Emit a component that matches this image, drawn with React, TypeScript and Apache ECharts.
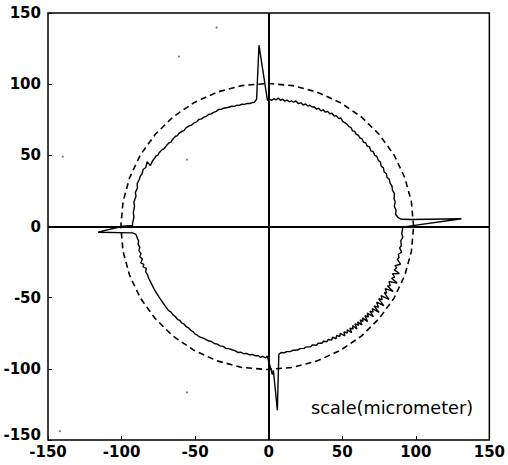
import React, { useEffect, useRef } from "react";
import * as echarts from "echarts";

// Axis range (micrometer)
const AXIS_MIN = -150;
const AXIS_MAX = 150;
const AXIS_STEP = 50;
const UNIT_LABEL = "scale(micrometer)";

// Reference (nominal) circle, dashed
const REFERENCE_CIRCLE: [number, number][] = [
  [98.5, 0], [97.0, 17.5], [92.5, 34.4], [85.2, 50.3], [75.2, 64.6], [63.0, 77.0],
  [48.8, 87.0], [33.0, 94.4], [16.3, 99.0], [-1, 100.5], [-18.3, 99.0], [-35.0, 94.4],
  [-50.8, 87.0], [-65.0, 77.0], [-77.2, 64.6], [-87.2, 50.3], [-94.5, 34.4], [-99.0, 17.5],
  [-100.5, 0], [-99.0, -17.5], [-94.5, -34.4], [-87.2, -50.3], [-77.2, -64.6], [-65.0, -77.0],
  [-50.8, -87.0], [-35.0, -94.4], [-18.3, -99.0], [-1, -100.5], [16.3, -99.0], [33.0, -94.4],
  [48.8, -87.0], [63.0, -77.0], [75.2, -64.6], [85.2, -50.3], [92.5, -34.4], [97.0, -17.5],
  [98.5, 0],
];

// Measured profile, clockwise from the top
const PROFILE_UPPER_RIGHT: [number, number][] = [
  [-0.8, 88.5], [0.5, 89.5], [2, 88.6], [3.5, 89.8], [5, 88.9], [6.5, 90.2], [8, 88.7],
  [9.5, 89.4], [11, 88.1], [12.5, 88.8], [14, 87.6], [15.5, 88.2], [17, 87.3], [18.5, 88.3],
  [20, 86.4], [22, 86.9], [23.5, 85.3], [25, 86.1], [26.5, 84.6], [28, 85.2], [29.5, 83.9],
  [31, 84.1], [32.5, 82.4], [34, 83.1], [35.5, 81.2], [37, 82], [38.5, 80.3], [40, 80.9],
  [41.5, 79.2], [43, 79.6], [44.5, 77.6], [46, 77.9], [47.5, 75.8], [49, 76.2], [50.5, 73.6],
  [52, 72.8], [53.5, 71.6], [54.5, 70.1], [56, 69.4], [57, 67.2], [58.5, 66.8], [59.5, 64.7],
  [61, 64.1], [62, 62.3], [63.5, 61.5], [64.5, 59.2], [66, 58.7], [67, 56.5], [68.5, 55.9],
  [69.5, 53.1], [71, 52.6], [72, 50.2], [73.5, 49.3], [74.5, 46.6], [76, 45.1], [76.5, 42.4],
  [78, 41.2], [78.5, 38.3], [80, 37.1], [80.5, 34.4], [82, 33.1], [82.5, 30.5], [83.8, 28.6],
  [84.2, 25.3], [85.5, 23.1], [85.2, 19.8], [86, 17.1], [85.4, 14.3], [86.6, 11.2], [86.2, 8.6],
  [88, 6.3], [90, 5.1],
];
const RIGHT_SPIKE: [number, number][] = [
  [97, 4.9], [131, 5.4], [98, 0.6], [91, -0.5],
];
const PROFILE_LOWER_RIGHT: [number, number][] = [
  [91, -2], [90.4, -5], [91.2, -7.5], [89.8, -10], [90.2, -13.5], [89, -15], [90.4, -18],
  [88.2, -19.5], [88.6, -22], [87.4, -23], [89.6, -26.5], [85.8, -27.5], [87, -29], [85.4, -30.5],
  [88.8, -33], [84.2, -33.2], [85.6, -35.5], [83.6, -36.4], [87.4, -39.8], [81.8, -38.6],
  [82.6, -41.5], [80.8, -41.8], [84.6, -45.6], [79.2, -43.6], [80.2, -46.8], [78.6, -46.4],
  [81.8, -51.2], [76.4, -48.6], [77.2, -51.4], [74.8, -50.8], [78.2, -55.6], [73.4, -53.2],
  [74.6, -56.8], [71.6, -55.8], [75, -60.4], [70.4, -57.6], [71, -60.2], [68.8, -59.4],
  [71.2, -63.4], [67, -60.8], [67.8, -63.6], [65.4, -62.6], [67.2, -66.8], [63.8, -64.2],
  [64.2, -66.6], [62.2, -65.6], [63.4, -69.2], [60.4, -67], [61.2, -69.4], [58.6, -68.4],
  [60, -72], [57, -69.6], [57.4, -72], [55.2, -71.4], [56.4, -74.6], [53.4, -72.6], [53.4, -74.8],
  [51.2, -74], [51.8, -76.8], [48.6, -75], [48.4, -77.2], [46.2, -76.6], [45.8, -78.8],
  [43.4, -77.8], [42.8, -79.8], [40.4, -79.4], [39.6, -81], [37.2, -80.6], [36.2, -82],
  [33.6, -82], [32.6, -83.4], [29.6, -83.2], [28.4, -84.6], [25.6, -84.6], [24, -85.6],
  [21.2, -85.8], [19.6, -86.8], [16.8, -86.9], [15, -87.8], [12.2, -87.9], [10.5, -88.8],
  [8.5, -88.5], [6.9, -89.8],
];
const BOTTOM_SPIKE: [number, number][] = [
  [5.9, -129], [3.2, -101], [2.5, -104], [-1, -91],
];
const PROFILE_LOWER_LEFT: [number, number][] = [
  [-2.2, -92.3], [-4, -91.2], [-5.5, -92], [-7, -90.6], [-9, -90.9], [-11, -89.9], [-13, -90.2],
  [-15, -89.1], [-17, -89.4], [-19, -88.3], [-21, -88.5], [-23, -87.2], [-25, -86.6], [-27, -85.8],
  [-29, -85.6], [-31, -84.2], [-33, -83.9], [-35, -82.6], [-37, -82.2], [-39, -80.8], [-41, -80.3],
  [-43, -79.2], [-45, -78.3], [-47, -77.6], [-48.5, -76.4], [-50, -75.6], [-51.5, -73.8],
  [-53, -72.9], [-54.5, -71.2], [-56, -70.4], [-57.5, -68.6], [-59, -67.8], [-60.5, -65.9],
  [-62, -65.2], [-63.5, -63.2], [-65, -62.1], [-66.5, -60], [-68, -59.1], [-69.5, -57],
  [-70.5, -55.6], [-72, -53.4], [-73, -51.9], [-74.5, -49.6], [-75.5, -47.8], [-77, -45.5],
  [-78, -43.6], [-79.2, -41.2], [-80.2, -39.1], [-81.5, -36.5], [-82.2, -34.2], [-83.6, -31.8],
  [-83.2, -29.5], [-85.4, -28.4], [-84.8, -26.6], [-86.9, -25.5], [-85.8, -23], [-87.6, -21.2],
  [-86.8, -19], [-88.2, -17], [-87.6, -14.5], [-88.8, -12.4], [-88.4, -10.2], [-89.1, -8.6],
  [-90.2, -5.6], [-92.5, -4.5],
];
const LEFT_SPIKE: [number, number][] = [
  [-116, -4], [-99.3, 0.2], [-92.5, 0.8],
];
const PROFILE_UPPER_LEFT: [number, number][] = [
  [-92.5, 2.6], [-91.6, 6.5], [-92, 10], [-91.2, 14.3], [-91.6, 17], [-90.2, 21.3], [-90.6, 24],
  [-89.2, 27], [-89.4, 30], [-88, 33], [-87.2, 35.5], [-86, 37.2], [-85.4, 40], [-83.5, 41.5],
  [-82.6, 45.5], [-80.4, 42.8], [-79, 46], [-78, 47.2], [-76.7, 49.4], [-75.2, 50.2], [-74.5, 51.8],
  [-72.3, 54.1], [-71.2, 54.6], [-70, 56.2], [-67.8, 58.8], [-66.4, 59.3], [-65.5, 61], [-63.3, 63.4],
  [-62, 63.8], [-61, 65.4], [-58.8, 67], [-57.6, 67.4], [-56.5, 69], [-54.3, 70.5], [-52.5, 71.2],
  [-51, 72.6], [-49, 73.5], [-47.5, 75.2], [-45.6, 75.6], [-44, 76.9], [-42.2, 77.6], [-40.8, 78.7],
  [-39, 79.1], [-37.5, 80.2], [-35.6, 80.9], [-34.1, 82.2], [-32, 82.4], [-30, 83.3], [-27.8, 83.6],
  [-25.1, 84.5], [-23.2, 84.4], [-21.5, 85.2], [-19.8, 85.1], [-18.3, 85.9], [-16.4, 85.8],
  [-14.5, 86.5], [-12.8, 86.4], [-11.1, 87.1], [-9.6, 87.4], [-8.2, 89.5],
];
const TOP_SPIKE: [number, number][] = [
  [-6.6, 127.4], [-0.8, 88.5],
];

// Scanning specks visible in the figure
const SPECKS: [number, number][] = [
  [-140, 49], [-35.4, 139.8], [-61, 119.4], [-55.6, 47], [-55.6, -116.6], [-142, -143.8],
];

const LABEL_FONT = "DejaVu Sans";

export default function App() {
  const ref = useRef<HTMLDivElement>(null);

  useEffect(() => {
    if (!ref.current) return;
    const chart = echarts.init(ref.current, null, { renderer: "svg" });

    const profile = [
      ...PROFILE_UPPER_RIGHT,
      ...RIGHT_SPIKE,
      ...PROFILE_LOWER_RIGHT,
      ...BOTTOM_SPIKE,
      ...PROFILE_LOWER_LEFT,
      ...LEFT_SPIKE,
      ...PROFILE_UPPER_LEFT,
      ...TOP_SPIKE,
    ];

    const axisCommon = {
      type: "value" as const,
      min: AXIS_MIN,
      max: AXIS_MAX,
      interval: AXIS_STEP,
      axisLine: { show: false, onZero: false },
      axisTick: { show: true, inside: true, length: 4, lineStyle: { color: "#000", width: 1 } },
      splitLine: { show: false },
    };

    chart.setOption({
      animation: false,
      backgroundColor: "#fff",
      grid: {
        left: 48,
        right: 15,
        top: 13,
        bottom: 25,
        show: true,
        borderColor: "#000",
        borderWidth: 1.5,
        backgroundColor: "transparent",
      },
      xAxis: {
        ...axisCommon,
        axisLabel: {
          color: "#000",
          fontFamily: LABEL_FONT,
          fontWeight: "bold",
          fontSize: 15,
          lineHeight: 12,
          margin: 6,
        },
      },
      yAxis: {
        ...axisCommon,
        axisLabel: {
          color: "#000",
          fontFamily: LABEL_FONT,
          fontWeight: "bold",
          fontSize: 15,
          lineHeight: 11,
          margin: 7,
          verticalAlignMinLabel: "bottom",
        },
      },
      series: [
        {
          name: "reference",
          type: "line",
          data: REFERENCE_CIRCLE,
          showSymbol: false,
          symbol: "none",
          lineStyle: { color: "#000", width: 1.6, type: [6, 4] },
          z: 2,
          markLine: {
            silent: true,
            symbol: "none",
            label: { show: false },
            lineStyle: { color: "#000", type: "solid", width: 2 },
            data: [{ xAxis: 0 }, { yAxis: 0 }],
          },
        },
        {
          name: "profile",
          type: "line",
          data: profile,
          showSymbol: false,
          symbol: "none",
          lineStyle: { color: "#000", width: 1.4 },
          z: 3,
        },
        {
          name: "specks",
          type: "scatter",
          data: SPECKS,
          symbolSize: 2,
          itemStyle: { color: "#555" },
          z: 1,
        },
      ],
      graphic: [
        {
          type: "text",
          left: 311,
          top: 399,
          style: {
            text: UNIT_LABEL,
            font: `17.7px "${LABEL_FONT}"`,
            fill: "#000",
          },
        },
      ],
    });

    return () => chart.dispose();
  }, []);

  return (
    <div
      ref={ref}
      style={{ position: "fixed", left: 0, top: 0, width: 508, height: 465, background: "#fff" }}
    />
  );
}
